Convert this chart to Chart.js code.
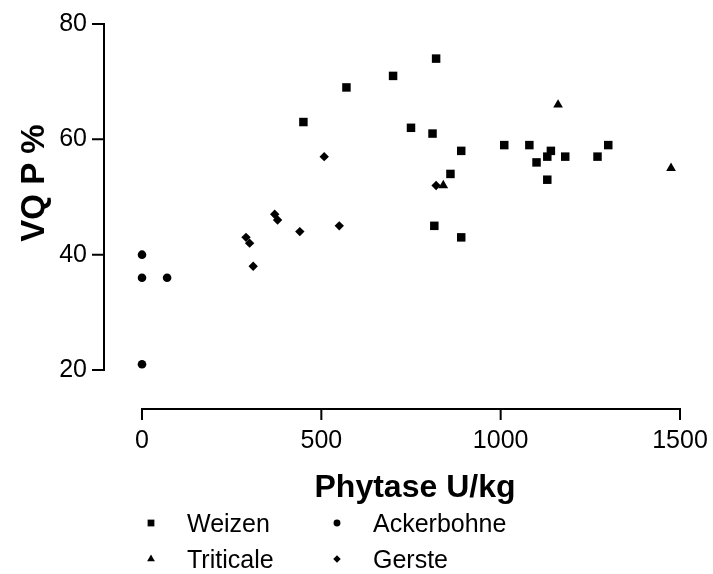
<!DOCTYPE html>
<html>
<head>
<meta charset="utf-8">
<script src="https://cdn.jsdelivr.net/npm/chart.js@4/dist/chart.umd.min.js"></script>
<style>
  html, body { margin: 0; padding: 0; background: #fff; }
  #wrap { width: 713px; height: 574px; }
</style>
</head>
<body>
<div id="wrap"><canvas id="phytaseChart" width="713" height="574"></canvas></div>
<script>
// Daten
const seriesNames = ["Weizen", "Ackerbohne", "Triticale", "Gerste"];
const weizenX = [450, 570, 700, 750, 810, 815, 820, 860, 890, 890, 1010, 1080, 1100, 1130, 1130, 1140, 1180, 1270, 1300];
const weizenY = [63, 69, 71, 62, 61, 45, 74, 54, 58, 43, 59, 59, 56, 57, 53, 58, 57, 57, 59];
const ackerbohneX = [0, 0, 70, 0];
const ackerbohneY = [40, 36, 36, 21];
const triticaleX = [840, 1160, 1475];
const triticaleY = [52, 66, 55];
const gersteX = [290, 300, 310, 370, 378, 440, 508, 550, 820];
const gersteY = [43, 42, 38, 47, 46, 44, 57, 45, 52];
const xTicks = [0, 500, 1000, 1500];
const yTicks = [20, 40, 60, 80];
const xTitle = "Phytase U/kg";
const yTitle = "VQ P %";

const FONT = "'Liberation Sans', Arial, Helvetica, sans-serif";

function toPoints(xs, ys) {
    return xs.map(function (x, i) { return { x: x, y: ys[i] }; });
}

// Achsen im Prism-Stil (abgesetzt vom Datenbereich) + Titel + Legende
const prismAxes = {
    id: "prismAxes",
    afterDraw: function (chart) {
        const ctx = chart.ctx;
        const xs = chart.scales.x;
        const ys = chart.scales.y;
        const area = chart.chartArea;
        const axX = area.left - 38; // senkrechte Achse
        const axY = area.bottom + 39; // waagrechte Achse
        ctx.save();
        ctx.strokeStyle = "#000";
        ctx.lineWidth = 2;
        ctx.lineCap = "square";
        // y-Achse
        ctx.beginPath();
        ctx.moveTo(axX, ys.getPixelForValue(yTicks[0]));
        ctx.lineTo(axX, ys.getPixelForValue(yTicks[yTicks.length - 1]));
        yTicks.forEach(function (t) {
            const py = ys.getPixelForValue(t);
            ctx.moveTo(axX - 11, py);
            ctx.lineTo(axX, py);
        });
        ctx.stroke();
        // x-Achse
        ctx.beginPath();
        ctx.moveTo(xs.getPixelForValue(xTicks[0]), axY);
        ctx.lineTo(xs.getPixelForValue(xTicks[xTicks.length - 1]), axY);
        xTicks.forEach(function (t) {
            const px = xs.getPixelForValue(t);
            ctx.moveTo(px, axY);
            ctx.lineTo(px, axY + 10);
        });
        ctx.stroke();

        // Achsentitel
        ctx.fillStyle = "#000";
        ctx.font = "bold 32px " + FONT;
        ctx.textAlign = "center";
        ctx.textBaseline = "alphabetic";
        ctx.fillText(xTitle, (xs.left + xs.right) / 2 + 4, 497);
        ctx.save();
        ctx.translate(44, 183);
        ctx.rotate(-Math.PI / 2);
        ctx.font = "bold 33px " + FONT;
        ctx.fillText(yTitle, 0, 0);
        ctx.restore();

        // Legende (2 Spalten)
        ctx.font = "25px " + FONT;
        ctx.textAlign = "left";
        chart.data.datasets.forEach(function (ds, i) {
            const col = i % 2;
            const row = Math.floor(i / 2);
            const mx = 151 + col * 186;
            const my = 523 + row * 36;
            ctx.fillStyle = "#000";
            Chart.helpers.drawPoint(ctx, {
                pointStyle: ds.pointStyle,
                radius: ds.pointRadius * 0.8,
                rotation: 0,
                borderWidth: 0,
            }, mx, my);
            ctx.fillText(ds.label, mx + 36, my + 9);
        });
        ctx.restore();
    },
};

// unsichtbare Tick-Striche schieben nur die Beschriftung nach außen
const hiddenGrid = {
    display: true,
    drawOnChartArea: false,
    drawTicks: true,
    tickLength: 52,
    color: "rgba(0,0,0,0)",
};

const ctxPhytase = document.getElementById("phytaseChart").getContext("2d");
const phytaseChart = new Chart(ctxPhytase, {
    type: "scatter",
    data: {
        datasets: [
            {
                label: seriesNames[0],
                data: toPoints(weizenX, weizenY),
                pointStyle: "rect",
                pointRadius: 6,
            },
            {
                label: seriesNames[1],
                data: toPoints(ackerbohneX, ackerbohneY),
                pointStyle: "circle",
                pointRadius: 4.3,
            },
            {
                label: seriesNames[2],
                data: toPoints(triticaleX, triticaleY),
                pointStyle: "triangle",
                pointRadius: 5.6,
            },
            {
                label: seriesNames[3],
                data: toPoints(gersteX, gersteY),
                pointStyle: "rectRot",
                pointRadius: 4.7,
            },
        ].map(function (ds) {
            ds.backgroundColor = "#000";
            ds.borderColor = "#000";
            ds.pointBorderWidth = 0;
            ds.pointHoverRadius = ds.pointRadius;
            ds.clip = false;
            return ds;
        }),
    },
    options: {
        responsive: false,
        animation: false,
        events: [],
        layout: {
            padding: { top: 24, right: 33, left: 0, bottom: 0 },
        },
        plugins: {
            legend: { display: false },
            tooltip: { enabled: false },
        },
        scales: {
            x: {
                type: "linear",
                min: xTicks[0],
                max: xTicks[xTicks.length - 1],
                grid: hiddenGrid,
                border: { display: false },
                afterBuildTicks: function (scale) {
                    scale.ticks = xTicks.map(function (v) { return { value: v }; });
                },
                afterFit: function (scale) {
                    scale.height = 204;
                },
                ticks: {
                    padding: 4,
                    maxRotation: 0,
                    color: "#000",
                    font: { family: FONT, size: 25 },
                    callback: function (v) { return String(v); },
                },
            },
            y: {
                type: "linear",
                min: yTicks[0],
                max: yTicks[yTicks.length - 1],
                grid: hiddenGrid,
                border: { display: false },
                afterBuildTicks: function (scale) {
                    scale.ticks = yTicks.map(function (v) { return { value: v }; });
                },
                afterFit: function (scale) {
                    scale.width = 142;
                },
                ticks: {
                    padding: 3,
                    color: "#000",
                    font: { family: FONT, size: 25 },
                    callback: function (v) { return String(v); },
                },
            },
        },
    },
    plugins: [prismAxes],
});
</script>
</body>
</html>
